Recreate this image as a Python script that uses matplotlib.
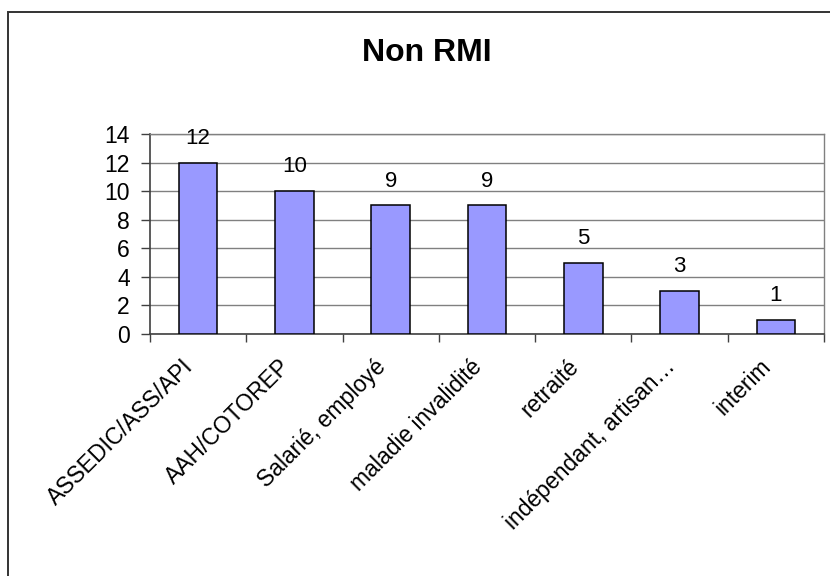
import matplotlib
matplotlib.use("Agg")
import matplotlib.pyplot as plt
from matplotlib.patches import Rectangle

categories = ["ASSEDIC/ASS/API", "AAH/COTOREP", "Salarié, employé", "maladie invalidité",
              "retraité", "indépendant, artisan…", "interim"]
values = [12, 10, 9, 9, 5, 3, 1]
yticks = [0, 2, 4, 6, 8, 10, 12, 14]
title = "Non RMI"

plt.rcParams["font.family"] = ["Liberation Sans", "DejaVu Sans"]

fig = plt.figure(figsize=(8.3, 5.76), dpi=100)
W, H = 830, 576

# outer chart frame
fig.patches.append(Rectangle((8 / W, -0.05), 1.2, (576 - 12) / H + 0.05,
                             transform=fig.transFigure, fill=False,
                             edgecolor="#333333", linewidth=1.4))

ax = fig.add_axes([150 / W, 1 - 334 / H, (824 - 150) / W, (334 - 134) / H])

x = list(range(len(categories)))
ax.bar(x, values, width=0.4, color="#9999FF", edgecolor="black", linewidth=1.1, zorder=3)

for xi, v in zip(x, values):
    ax.annotate(str(v), (xi, v), xytext=(0, 10), textcoords="offset points",
                ha="center", va="bottom", fontsize=16)

ax.set_xlim(-0.5, len(categories) - 0.5)
ax.set_ylim(0, 14)
ax.set_yticks(yticks)
ax.set_yticklabels([str(t) for t in yticks], fontsize=16.5)
ax.yaxis.grid(True, color="#808080", linewidth=1.0, zorder=0)
ax.set_axisbelow(True)

ax.set_xticks(x)
ax.set_xticklabels(categories, rotation=45, ha="right", rotation_mode="default", fontsize=16.5)
ax.set_xticks([i - 0.5 for i in range(len(categories) + 1)], minor=True)
ax.tick_params(axis="x", which="major", length=0, pad=15)
ax.tick_params(axis="x", which="minor", length=6, width=1.0, color="#404040", direction="out")
ax.tick_params(axis="y", length=6.5, width=1.0, color="#404040", pad=8)

for side in ("top", "right"):
    ax.spines[side].set_color("#808080")
    ax.spines[side].set_linewidth(1.0)
for side in ("left", "bottom"):
    ax.spines[side].set_color("#404040")
    ax.spines[side].set_linewidth(1.2)

fig.text(427 / W, 1 - 53 / H, title, ha="center", va="center",
         fontsize=23, fontweight="bold")

fig.savefig("out.png", dpi=100)
